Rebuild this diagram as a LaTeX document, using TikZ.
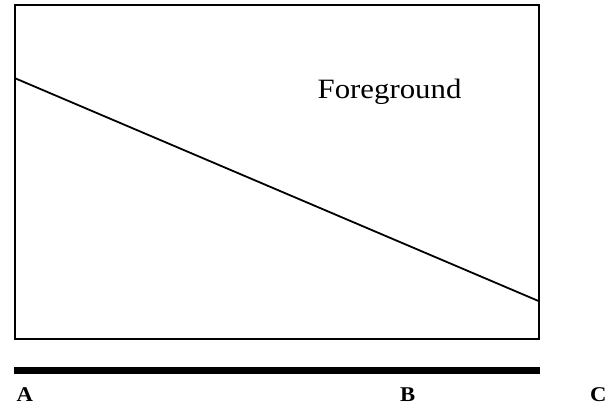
\documentclass[tikz,border=0pt]{standalone}
\usepackage{fontspec}
\setmainfont{Liberation Serif}
\usetikzlibrary{positioning}
\newcommand{\widetext}[2]{\scalebox{#1}[1]{#2}}

\begin{document}
\begin{tikzpicture}[
  x=1pt, y=-1pt,
  frame/.style={draw, line width=2pt},
  slope/.style={line width=1.8pt},
  bar/.style={line width=6.5pt},
  lbl/.style={font=\fontsize{21}{21}\selectfont\bfseries, anchor=base west, inner sep=0pt},
  fg/.style={font=\fontsize{28}{28}\selectfont, anchor=base west, inner sep=0pt}
]
\useasboundingbox (0,0) rectangle (610,406);
\coordinate (nw) at (14.5,5);
\coordinate (se) at (538.5,339);
\coordinate (left) at (14.5,78);
\coordinate (right) at (538.5,301);
\coordinate (barl) at (14,370.5);
\coordinate (barr) at (540,370.5);

\draw[frame] (nw) rectangle (se);
\draw[slope] (left) -- (right);
\draw[bar] (barl) -- (barr);

\node[fg] (fore) at (317.5,98.5) {\widetext{1.1}{Foreground}};
\node[lbl] (A) at (16.5,401) {\widetext{1.08}{A}};
\node[lbl] (B) at (400,401) {\widetext{1.08}{B}};
\node[lbl] (C) at (590,401) {\widetext{1.08}{C}};
\end{tikzpicture}
\end{document}
